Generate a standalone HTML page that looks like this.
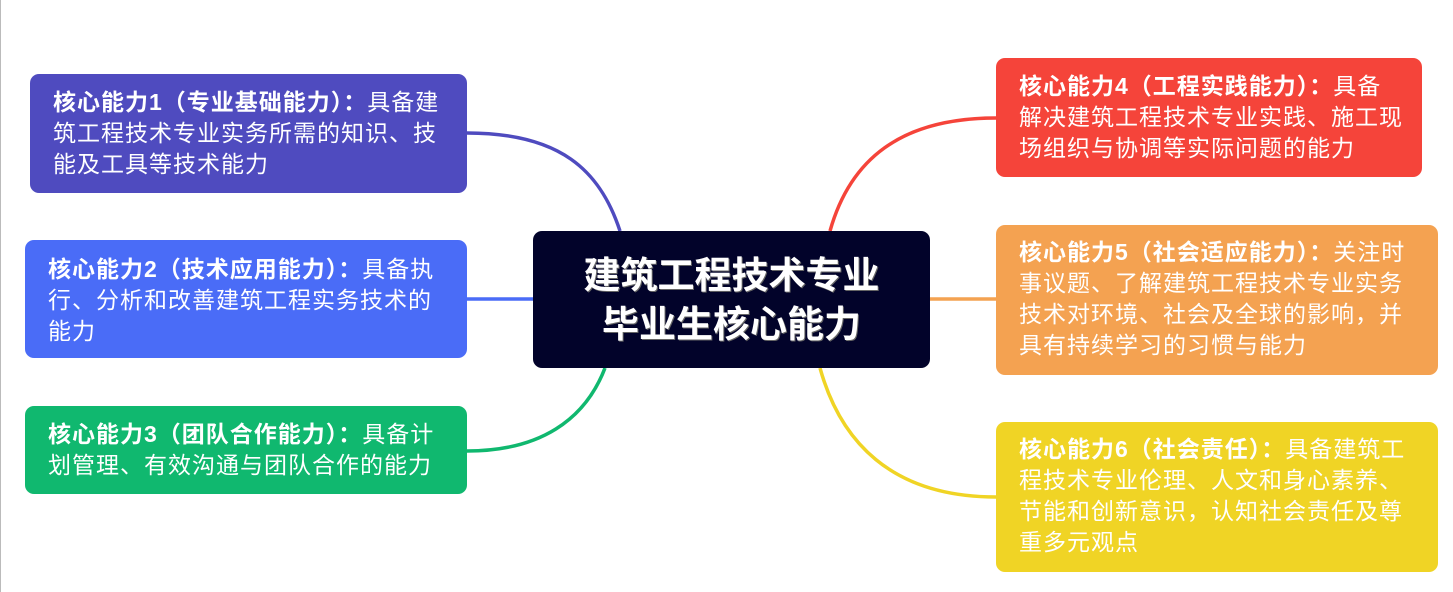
<!DOCTYPE html>
<html><head><meta charset="utf-8"><style>
body{margin:0;width:1453px;height:592px;background:#fff;position:relative;overflow:hidden;font-family:"Liberation Sans","Noto Sans CJK SC",sans-serif;}
.b{position:absolute;border-radius:9px;color:#fff;font-size:23px;letter-spacing:1px;line-height:31px;box-sizing:border-box;white-space:nowrap}
.b b{font-weight:bold}
</style></head><body>
<div style="position:absolute;left:0;top:0;width:1px;height:592px;background:#bbb"></div>
<svg width="1453" height="592" style="position:absolute;left:0;top:0" fill="none" stroke-width="3.5">
<path d="M467 133 C560 133 600 170 620 231" stroke="#4f4bbf"/>
<path d="M467 299 L533 299" stroke="#4a6cf7"/>
<path d="M467 451 C540 451 585 420 605 368" stroke="#10b86f"/>
<path d="M996 118 C900 118 850 160 830 231" stroke="#f5443a"/>
<path d="M930 299 L996 299" stroke="#f4a251"/>
<path d="M996 497 C890 497 840 440 820 368" stroke="#f0d425"/>
</svg>
<div class="b" style="left:30px;top:74px;width:437px;height:119px;background:#4f4bbf;padding:13px 0 0 23px"><b>核心能力1（专业基础能力）：</b>具备建<br>筑工程技术专业实务所需的知识、技<br>能及工具等技术能力</div>
<div class="b" style="left:25px;top:240px;width:442px;height:118px;background:#4a6cf7;padding:14px 0 0 23px"><b>核心能力2（技术应用能力）：</b>具备执<br>行、分析和改善建筑工程实务技术的<br>能力</div>
<div class="b" style="left:25px;top:406px;width:442px;height:88px;background:#10b86f;padding:13px 0 0 23px"><b>核心能力3（团队合作能力）：</b>具备计<br>划管理、有效沟通与团队合作的能力</div>
<div style="position:absolute;left:533px;top:231px;width:397px;height:137px;background:#02032a;border-radius:9px;color:#fff;font-weight:bold;font-size:37px;line-height:49px;text-align:center;padding-top:20px;box-sizing:border-box;text-shadow:1px 1px 0 #666">建筑工程技术专业<br>毕业生核心能力</div>
<div class="b" style="left:996px;top:58px;width:426px;height:119px;background:#f5443a;padding:13px 0 0 23px"><b>核心能力4（工程实践能力）：</b>具备<br>解决建筑工程技术专业实践、施工现<br>场组织与协调等实际问题的能力</div>
<div class="b" style="left:996px;top:225px;width:442px;height:150px;background:#f4a251;padding:12px 0 0 23px"><b>核心能力5（社会适应能力）：</b>关注时<br>事议题、了解建筑工程技术专业实务<br>技术对环境、社会及全球的影响，并<br>具有持续学习的习惯与能力</div>
<div class="b" style="left:996px;top:422px;width:442px;height:150px;background:#f0d425;padding:12px 0 0 23px"><b>核心能力6（社会责任）：</b>具备建筑工<br>程技术专业伦理、人文和身心素养、<br>节能和创新意识，认知社会责任及尊<br>重多元观点</div>
</body></html>
